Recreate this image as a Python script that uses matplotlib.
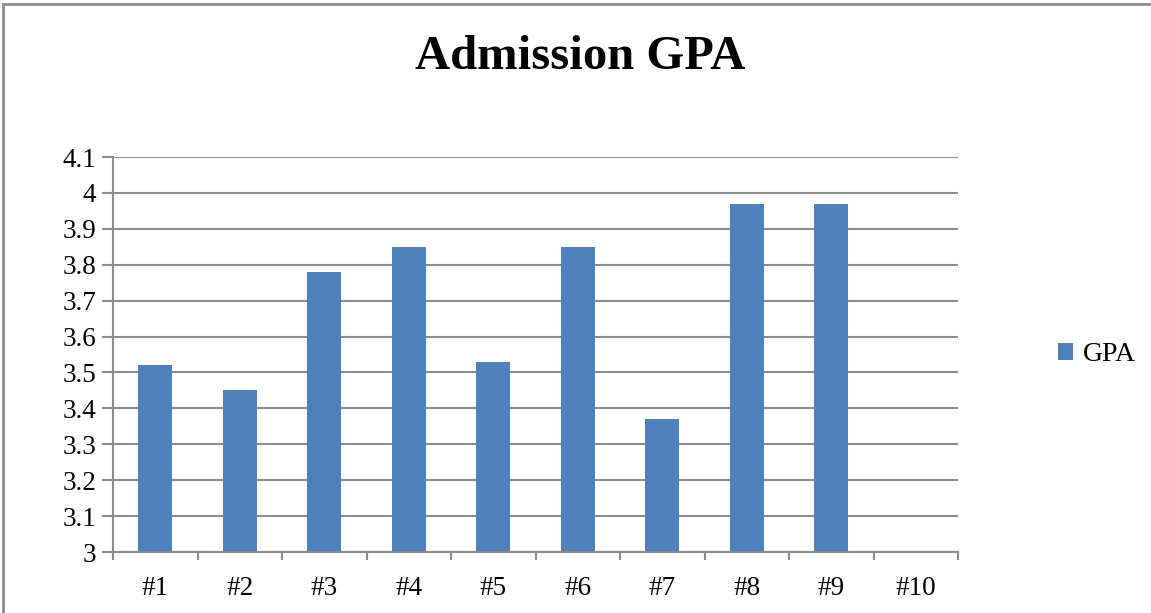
import numpy as np
import matplotlib.pyplot as plt
from matplotlib.patches import Rectangle

categories = ['#1', '#2', '#3', '#4', '#5', '#6', '#7', '#8', '#9', '#10']
gpa = [3.52, 3.45, 3.78, 3.85, 3.53, 3.85, 3.37, 3.97, 3.97, np.nan]
yticks = [3.0, 3.1, 3.2, 3.3, 3.4, 3.5, 3.6, 3.7, 3.8, 3.9, 4.0, 4.1]
ytick_labels = ['3', '3.1', '3.2', '3.3', '3.4', '3.5', '3.6', '3.7', '3.8', '3.9', '4', '4.1']

bar_color = '#4F81BD'
grid_color = '#8C8C8C'
font = 'Liberation Serif'
fs = 19.5

fig = plt.figure(figsize=(11.51, 6.13), dpi=100)
# outer chart border (only top/left visible in the reference)
fig.patches.append(Rectangle((3 / 1151, -0.1), 1.2, (613 - 4) / 613 + 0.1,
                             transform=fig.transFigure, fill=False,
                             edgecolor='#8C8C8C', linewidth=2))

ax = fig.add_axes([113 / 1151, 61 / 613, 845 / 1151, 395 / 613])
x = np.arange(len(categories))
ax.bar(x, gpa, width=0.4, color=bar_color, zorder=3, label='GPA')

ax.set_xlim(-0.5, len(categories) - 0.5)
ax.set_ylim(3.0, 4.1)
ax.set_yticks(yticks)
ax.set_yticklabels(ytick_labels, fontsize=fs, family=font)
ax.set_xticks(x)
ax.set_xticklabels(categories, fontsize=fs, family=font)
ax.set_xticks(np.arange(-0.5, len(categories)), minor=True)

ax.tick_params(axis='x', which='major', length=0, pad=17)
ax.tick_params(axis='x', which='minor', length=6, width=1.5, color=grid_color)
ax.tick_params(axis='y', length=8, width=1.5, color=grid_color, pad=4)

ax.yaxis.grid(True, color=grid_color, linewidth=1.5, zorder=0)
for s in ['top', 'right']:
    ax.spines[s].set_visible(False)
for s in ['left', 'bottom']:
    ax.spines[s].set_color(grid_color)
    ax.spines[s].set_linewidth(1.5)
    ax.spines[s].set_zorder(4)

fig.text(580 / 1151, 1 - 57 / 613, 'Admission GPA', ha='center', va='center',
         fontsize=35, fontweight='bold', family=font)

ax.legend(loc='center left', bbox_to_anchor=(1.105, 0.5), frameon=False,
          prop={'family': font, 'size': 20}, handlelength=0.55, handleheight=0.55,
          handletextpad=0.35, borderaxespad=0)

fig.savefig('out.png', dpi=100)
